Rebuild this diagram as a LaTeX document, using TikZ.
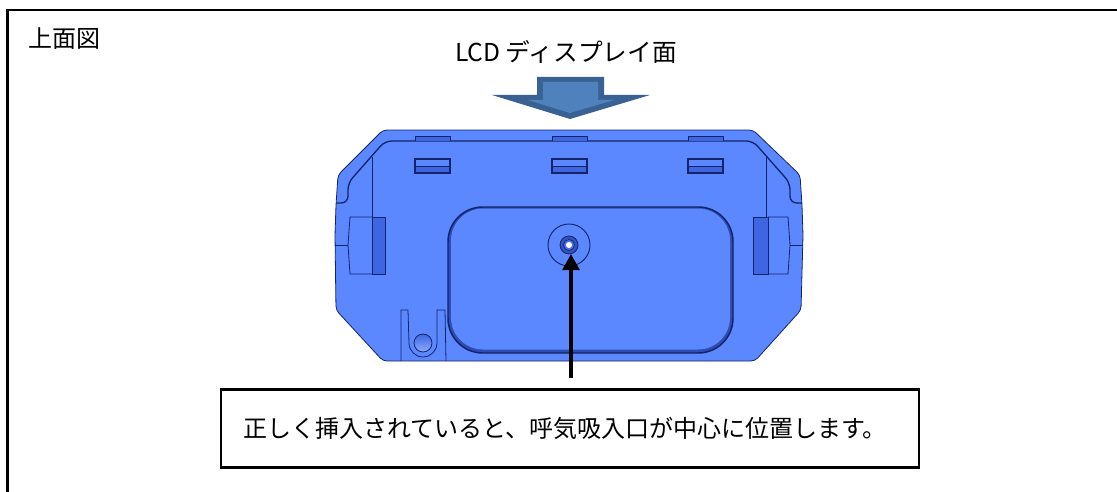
\documentclass[tikz,border=0pt]{standalone}
\usepackage{fontspec}
\setmainfont{Noto Sans CJK JP}
\usetikzlibrary{arrows.meta}

\definecolor{bodyblue}{HTML}{5B88FF}
\definecolor{slotblue}{HTML}{3F66E0}
\definecolor{edgeblue}{HTML}{14246A}
\definecolor{arrowfill}{HTML}{4F81BD}
\definecolor{arrowedge}{HTML}{3A6193}

\tikzset{
    label/.style={font=\fontsize{18pt}{22pt}\selectfont,inner sep=0pt},
    thinedge/.style={draw=edgeblue,line width=0.6pt},
    slot/.style={draw=edgeblue,line width=1pt,fill=bodyblue},
    darkpart/.style={fill=slotblue}
}

\begin{document}
\begin{tikzpicture}[x=0.75pt,y=-0.75pt]
            \useasboundingbox (0,0) rectangle (1117,492);

            % The open frame
            \coordinate (f0) at (7.5,492);
            \coordinate (f1) at (7.5,10);
            \coordinate (f2) at (1117,10);
            \draw[line width=2.2pt] (f0) -- (f1) -- (f2);

            % Place the arrow above the unit
            \fill[arrowedge] (537,77) -- (604,77) -- (604,95) -- (650,95) -- (570,119) -- (492,95) -- (537,95) -- cycle;
            \fill[arrowfill] (543,82) -- (598,82) -- (598,100) -- (614,100) -- (570,113) -- (528,100) -- (543,100) -- cycle;

            % The body
            \draw[thinedge,fill=bodyblue,rounded corners=3pt] (383,130) -- (753,130) -- (800,175) -- (802,205) -- (803,235) -- (801,310) -- (755,361) -- (383,361) -- (336,310) -- (335,235) -- (336,205) -- (338,175) -- cycle;
            \draw[edgeblue,line width=1pt,rounded corners=5pt] (336,203) -- (348,203) -- (348,183) -- (385,141) -- (753,141) -- (790,183) -- (790,203) -- (802,203);
            \draw[thinedge] (372,157) -- (372,217);
            \draw[thinedge] (766,157) -- (766,217);

            % The side blocks
            \fill[darkpart] (372,217) rectangle (385,274);
            \fill[darkpart] (753,217) rectangle (768,274);
            \draw[thinedge] (372,217) -- (350,217) -- (348,245) -- (350,274) -- (372,274);
            \draw[thinedge] (372,217) -- (385,217) -- (385,274) -- (372,274) -- cycle;
            \draw[thinedge] (768,217) -- (788,217) -- (790,245) -- (788,274) -- (768,274);
            \draw[thinedge] (753,217) -- (768,217) -- (768,274) -- (753,274) -- cycle;
            \draw[thinedge] (335,245) -- (348,245);
            \draw[thinedge] (790,245) -- (803,245);

            % The tabs and the slots
            \draw[thinedge,darkpart] (415,141) -- (415,136) -- (450,136) -- (450,141);
            \draw[thinedge,darkpart] (552,141) -- (552,136) -- (587,136) -- (587,141);
            \draw[thinedge,darkpart] (688,141) -- (688,136) -- (723,136) -- (723,141);
            \fill[darkpart] (415,166) rectangle (450,173);
            \fill[darkpart] (552,166) rectangle (587,173);
            \fill[darkpart] (688,166) rectangle (723,173);
            \draw[slot,fill=none] (415,159) rectangle (450,173);
            \draw[slot,fill=none] (552,159) rectangle (587,173);
            \draw[slot,fill=none] (688,159) rectangle (723,173);
            \draw[thinedge] (415,166) -- (450,166);
            \draw[thinedge] (552,166) -- (587,166);
            \draw[thinedge] (688,166) -- (723,166);

            % The recess
            \draw[edgeblue,line width=1.1pt,fill=slotblue!60!edgeblue,rounded corners=26pt] (448,207) rectangle (733,353);
            \fill[bodyblue,rounded corners=24pt] (451,208.5) rectangle (730,349.5);

            % The latch at the bottom
            \draw[thinedge] (401,361) -- (401,310) -- (408,310) -- (409,343) arc[start angle=180,end angle=0,radius=14] -- (437,310) -- (445,310) -- (446,361);
            \draw[thinedge,top color=slotblue,bottom color=bodyblue!70!white] (423,343) circle (9);

            % Place the inlet
            \node[circle,draw=edgeblue,line width=0.7pt,inner sep=0pt,minimum size=31.5pt] (inlet) at (569,245) {};
            \draw[edgeblue,fill=slotblue!70!edgeblue,line width=0.6pt] (inlet.center) circle (9);
            \draw[edgeblue,fill=slotblue!60!bodyblue,line width=0.5pt] (inlet.center) circle (5.5);
            \fill[white] (inlet.center) circle (3);

            % Place the texts
            \node[label] (title) at (64,38.5) {上面図};
            \node[label,font=\fontsize{18.5pt}{22pt}\selectfont] (face) at (566,52) {LCD ディスプレイ面};
            \node[label,draw=black,line width=2.2pt,minimum height=59pt,inner xsep=16.5pt,text width=490.5pt,align=left] (note) at (570,428.5) {\raisebox{-1pt}{正しく挿入されていると、呼気吸入口が中心に位置します。}};

            % The pointer
            \coordinate (start) at (571,378);
            \coordinate (inlettip) at (571,254);
            \draw[-{Triangle[width=12.5pt,length=12pt]},line width=2.6pt] (start) -- (inlettip);
        \end{tikzpicture}
\end{document}
